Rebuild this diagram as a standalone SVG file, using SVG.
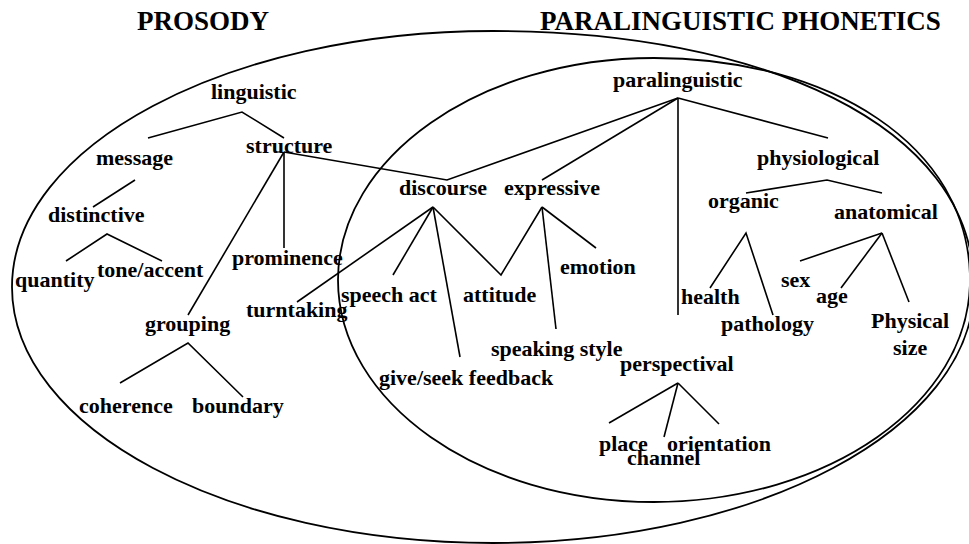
<svg xmlns="http://www.w3.org/2000/svg" width="969" height="544" viewBox="0 0 969 544">
<style>
text{font-family:"Liberation Serif","Times New Roman",serif;font-weight:bold;font-size:22px;fill:#000}
.title{font-size:27px}
.edge{fill:none;stroke:#000;stroke-width:1.6;stroke-linejoin:miter}
.set{fill:none;stroke:#000;stroke-width:1.8}
</style>
<rect width="969" height="544" fill="#fff"/>
<g id="sets">
<path id="prosody-set" class="set" d="M12,287 C12,145.6 227.3,31 493,31 C758.7,31 974,124 974,287 C974,428.4 758.7,543 493,543 C227.3,543 12,428.4 12,287 Z"/>
<path id="paraling-set" class="set" d="M338,280 C338,157.4 479.5,58 654,58 C828.5,58 970,145 970,280 C970,402.6 828.5,502 654,502 C479.5,502 338,402.6 338,280 Z"/>
</g>
<g id="connectors">
<polyline class="edge" points="148,138 242,112 284,138"/>
<line class="edge" x1="135" y1="180" x2="93" y2="207"/>
<polyline class="edge" points="66,261 107,234 162,261"/>
<line class="edge" x1="284" y1="152" x2="284" y2="248"/>
<line class="edge" x1="284" y1="152" x2="188" y2="315"/>
<polyline class="edge" points="284,152 447,180 678,98"/>
<polyline class="edge" points="120,383 188,343 243,397"/>
<line class="edge" x1="433" y1="207" x2="297" y2="302"/>
<line class="edge" x1="433" y1="207" x2="393" y2="275"/>
<line class="edge" x1="433" y1="207" x2="460" y2="357"/>
<polyline class="edge" points="433,207 501,275 542,207"/>
<line class="edge" x1="542" y1="207" x2="596" y2="248"/>
<line class="edge" x1="542" y1="207" x2="556" y2="329"/>
<line class="edge" x1="542" y1="180" x2="678" y2="98"/>
<line class="edge" x1="678" y1="98" x2="678" y2="315"/>
<line class="edge" x1="678" y1="98" x2="828" y2="138"/>
<polyline class="edge" points="746,193 827,180 882,193"/>
<polyline class="edge" points="710,288 746,233 773,315"/>
<line class="edge" x1="882" y1="233" x2="800" y2="261"/>
<line class="edge" x1="882" y1="233" x2="841" y2="288"/>
<line class="edge" x1="882" y1="233" x2="909" y2="302"/>
<line class="edge" x1="678" y1="383" x2="609" y2="423"/>
<line class="edge" x1="678" y1="383" x2="664" y2="437"/>
<line class="edge" x1="678" y1="383" x2="719" y2="424"/>
</g>
<g id="title-prosody"><text class="title" x="137" y="30">PROSODY</text></g>
<g id="title-paralinguistic"><text class="title" x="540" y="30">PARALINGUISTIC PHONETICS</text></g>
<g id="linguistic"><text x="211" y="99">linguistic</text></g>
<g id="message"><text x="96" y="165">message</text></g>
<g id="structure"><text x="246" y="153">structure</text></g>
<g id="distinctive"><text x="48" y="222">distinctive</text></g>
<g id="prominence"><text x="232" y="265">prominence</text></g>
<g id="tone-accent"><text x="97" y="277">tone/accent</text></g>
<g id="quantity"><text x="15" y="287">quantity</text></g>
<g id="grouping"><text x="145" y="331">grouping</text></g>
<g id="coherence"><text x="79" y="413">coherence</text></g>
<g id="boundary"><text x="192" y="413">boundary</text></g>
<g id="turntaking"><text x="246" y="317">turntaking</text></g>
<g id="discourse"><text x="399" y="195">discourse</text></g>
<g id="expressive"><text x="504" y="195">expressive</text></g>
<g id="speech-act"><text x="341" y="302">speech act</text></g>
<g id="attitude"><text x="463" y="302">attitude</text></g>
<g id="emotion"><text x="560" y="274">emotion</text></g>
<g id="speaking-style"><text x="491" y="356">speaking style</text></g>
<g id="give-seek-feedback"><text x="379" y="385">give/seek feedback</text></g>
<g id="paralinguistic"><text x="613" y="87">paralinguistic</text></g>
<g id="physiological"><text x="757" y="165">physiological</text></g>
<g id="organic"><text x="708" y="208">organic</text></g>
<g id="anatomical"><text x="834" y="219">anatomical</text></g>
<g id="health"><text x="681" y="304">health</text></g>
<g id="pathology"><text x="721" y="331">pathology</text></g>
<g id="sex"><text x="781" y="287">sex</text></g>
<g id="age"><text x="816" y="303">age</text></g>
<g id="physical-size"><text x="871" y="328">Physical</text><text x="893" y="355">size</text></g>
<g id="perspectival"><text x="620" y="371">perspectival</text></g>
<g id="place"><text x="599" y="451">place</text></g>
<g id="orientation"><text x="667" y="451">orientation</text></g>
<g id="channel"><text x="627" y="465">channel</text></g>
</svg>
